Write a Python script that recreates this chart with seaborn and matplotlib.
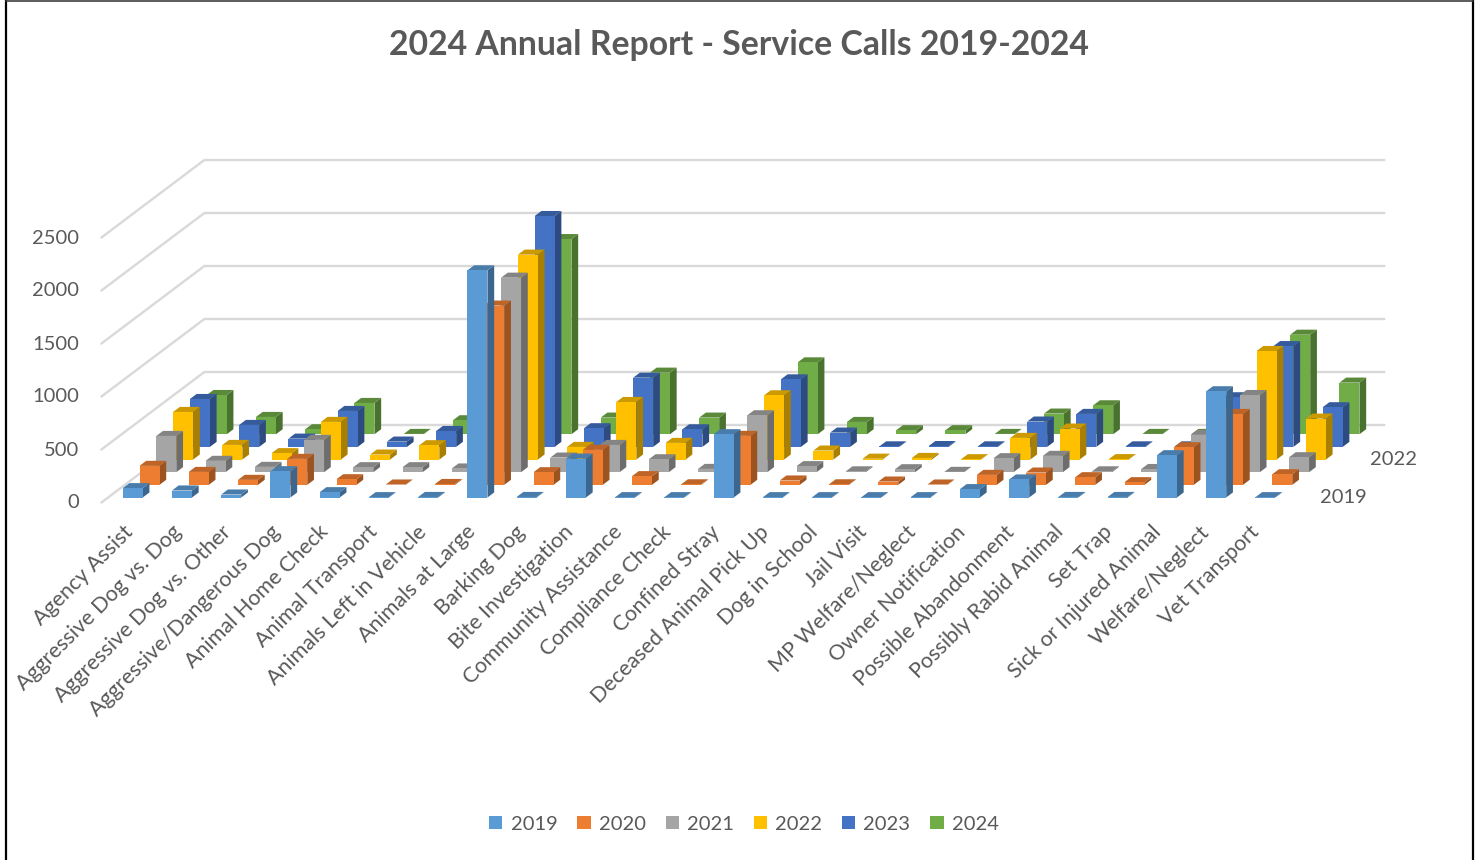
import matplotlib
matplotlib.use("Agg")
import matplotlib.pyplot as plt
from matplotlib.lines import Line2D
from matplotlib.patches import Patch, Polygon
from matplotlib.transforms import Affine2D
import numpy as np
import pandas as pd
import seaborn as sns

CATEGORIES = ["Agency Assist", "Aggressive Dog vs. Dog", "Aggressive Dog vs. Other",
              "Aggressive/Dangerous Dog", "Animal Home Check", "Animal Transport",
              "Animals Left in Vehicle", "Animals at Large", "Barking Dog",
              "Bite Investigation", "Community Assistance", "Compliance Check",
              "Confined Stray", "Deceased Animal Pick Up", "Dog in School", "Jail Visit",
              "MP Welfare/Neglect", "Owner Notification", "Possible Abandonment",
              "Possibly Rabid Animal", "Set Trap", "Sick or Injured Animal",
              "Welfare/Neglect", "Vet Transport"]
Y2019 = [88, 66, 28, 248, 50, 3, 5, 2143, 5, 367, 3, 3, 597, 3, 3, 3, 3, 79, 170, 5, 5, 399, 1002, 3]
Y2020 = [179, 122, 47, 245, 53, 3, 8, 1691, 119, 330, 82, 5, 462, 41, 5, 31, 3, 94, 116, 72, 25, 355, 669, 100]
Y2021 = [342, 107, 50, 305, 47, 47, 35, 1835, 138, 257, 122, 31, 537, 57, 8, 28, 3, 132, 154, 8, 30, 352, 728, 141]
Y2022 = [449, 138, 60, 355, 47, 135, 50, 1933, 119, 543, 157, 60, 606, 85, 8, 15, 3, 204, 292, 4, 8, 430, 1024, 386]
Y2023 = [452, 207, 78, 339, 50, 150, 40, 2178, 176, 653, 166, 40, 637, 135, 5, 8, 5, 239, 311, 5, 5, 468, 951, 374]
Y2024 = [370, 163, 47, 295, 3, 132, 30, 1841, 157, 581, 157, 30, 678, 116, 38, 38, 3, 195, 273, 3, 3, 300, 939, 487]
YEARS = ["2019", "2020", "2021", "2022", "2023", "2024"]
SERIES = [Y2019, Y2020, Y2021, Y2022, Y2023, Y2024]
COLORS = ["#5B9BD5", "#ED7D31", "#A5A5A5", "#FFC000", "#4472C4", "#70AD47"]
Y_TICKS = [0, 500, 1000, 1500, 2000, 2500]

sns.set_theme(style="white")
plt.rcParams["font.family"] = ["Lato", "DejaVu Sans"]
GREY = "#595959"
W, H = 1478, 860
PX_CAT, PX_Y = 49.25, 53 / 500
DX, DY = 16.8 / PX_CAT, 12.65 / PX_Y      # depth shift of one series, data units
BAR_W, BAR_D = 20 / PX_CAT, 0.4

fig = plt.figure(figsize=(W / 100, H / 100), dpi=100, facecolor="white")
x0, y0 = 132.7 - 0.5 * PX_CAT, 497.5
ax = fig.add_axes([x0 / W, (H - y0) / H, 24 * PX_CAT / W, 265 / H])
ax.patch.set_visible(False)


def proj(x, y, d):
    return (x + d * DX, y + d * DY)


def shade(c, k):
    r = np.array(matplotlib.colors.to_rgb(c)) * k
    return tuple(r)


# walls
D_FRONT, D_BACK = -0.4, 5.73
for t in Y_TICKS:
    pts = [proj(-0.5, t, D_FRONT), proj(-0.5, t, D_BACK), proj(23.46, t, D_BACK)]
    ax.plot(*zip(*pts), color="#D9D9D9", lw=1.7, clip_on=False, zorder=1,
            solid_joinstyle="miter")

# bars, back series first
for j in range(5, -1, -1):
    df = pd.DataFrame({"call": CATEGORIES, "n": SERIES[j]})
    shift = Affine2D().translate(j * DX, j * DY) + ax.transData
    n_before = len(ax.containers)
    sns.barplot(data=df, x="call", y="n", order=CATEGORIES, color=COLORS[j], saturation=1,
                width=BAR_W, errorbar=None, ax=ax, transform=shift, linewidth=0,
                edgecolor="none")
    bars = ax.containers[n_before]
    for i, (rect, v) in enumerate(zip(bars.patches, SERIES[j])):
        z = 10 + (5 - j) * 10 + i * 0.1
        rect.set_zorder(z + 0.02)
        rect.set_clip_on(False)
        l, r = i - BAR_W / 2, i + BAR_W / 2
        side = [proj(r, 0, j), proj(r, v, j), proj(r, v, j + BAR_D), proj(r, 0, j + BAR_D)]
        top = [proj(l, v, j), proj(r, v, j), proj(r, v, j + BAR_D), proj(l, v, j + BAR_D)]
        ax.add_patch(Polygon(side, closed=True, fc=shade(COLORS[j], 0.66), ec="none",
                             clip_on=False, zorder=z))
        ax.add_patch(Polygon(top, closed=True, fc=shade(COLORS[j], 0.8), ec="none",
                             clip_on=False, zorder=z + 0.01))

ax.set_xlim(-0.5, 23.5)
ax.set_ylim(0, 2500)
sns.despine(ax=ax, left=True, bottom=True)
ax.set_xlabel("")
ax.set_ylabel("")
ax.set_yticks(Y_TICKS)
ax.set_yticklabels([str(t) for t in Y_TICKS], fontsize=14.5, color=GREY)
ax.tick_params(axis="y", length=0, pad=21)
down = Affine2D().translate(0, -4)
for lab in ax.get_yticklabels():
    lab.set_transform(lab.get_transform() + down)
ax.set_xticks(range(len(CATEGORIES)))
ax.set_xticklabels(CATEGORIES, rotation=45, ha="right", va="top", rotation_mode="anchor",
                   fontsize=15.5, color=GREY)
ax.tick_params(axis="x", length=0, pad=16)
for i, lab in enumerate(ax.get_xticklabels()):
    nudge = Affine2D().translate(-10 - 0.3 * i, -2)
    lab.set_transform(lab.get_transform() + nudge)

# depth axis labels
for j in (0, 3):
    x, y = proj(24.58, 0, j)
    ax.text(x, y, YEARS[j], ha="center", va="center", fontsize=14.5, color=GREY, clip_on=False)

fig.text(739 / W, 1 - 45 / H, "2024 Annual Report - Service Calls 2019-2024", ha="center",
         va="center", fontsize=24.3, fontweight="bold", color=GREY)

handles = [Patch(fc=c, ec="none", label=y) for c, y in zip(COLORS, YEARS)]
fig.legend(handles=handles, loc="center", bbox_to_anchor=(744 / W, 1 - 824 / H), ncol=6, frameon=False,
           fontsize=14.5, labelcolor=GREY, handlelength=0.65, handleheight=0.65,
           handletextpad=0.4, columnspacing=1.0)

# outer frame
fig.add_artist(Line2D([6 / W, 6 / W], [0, 1], color="black", lw=1.6))
fig.add_artist(Line2D([1473 / W, 1473 / W], [0, 1], color="black", lw=1.6))
fig.add_artist(Line2D([6 / W, 1473 / W], [1 - 0.5 / H, 1 - 0.5 / H], color="#404040", lw=1.2))

fig.savefig("out.png", dpi=100)
